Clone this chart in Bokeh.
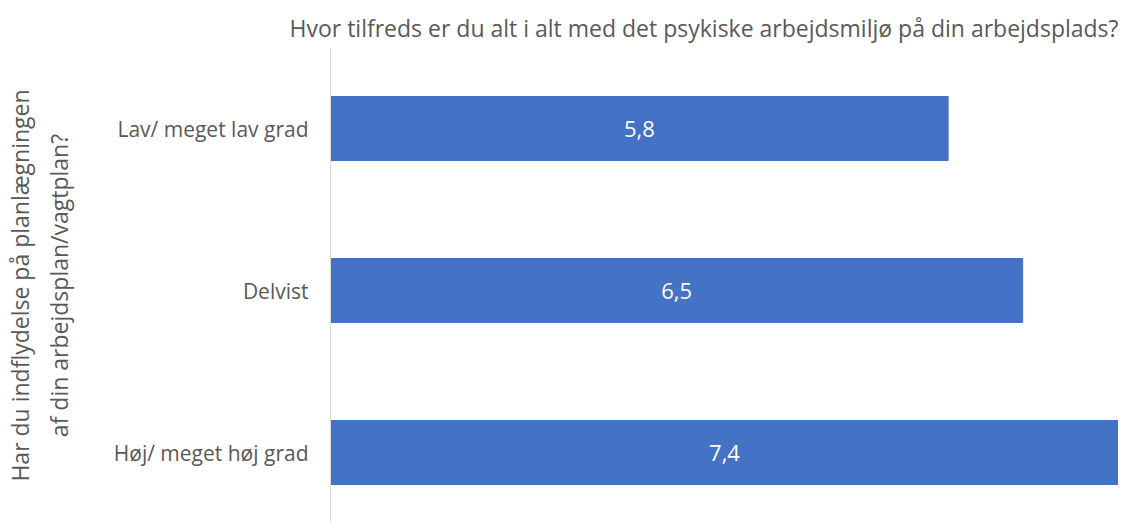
from bokeh.plotting import figure
from bokeh.models import ColumnDataSource, Range1d, FixedTicker
from bokeh.core.properties import value
from bokeh.embed import file_html
from bokeh.resources import INLINE

categories = ["Lav/ meget lav grad", "Delvist", "Høj/ meget høj grad"]
scores = [5.8, 6.5, 7.4]
title_text = "Hvor tilfreds er du alt i alt med det psykiske arbejdsmiljø på din arbejdsplads?"
y_label = "Har du indflydelse på planlægningen\naf din arbejdsplan/vagtplan?"

FONT = "Open Sans"
GRAY = "#595959"

pos = list(range(len(categories)))
labels = [f"{v:.1f}".replace(".", ",") for v in scores]
src = ColumnDataSource(dict(y=pos, right=scores, mid=[v / 2 for v in scores], lab=labels))

p = figure(width=1118, height=522, output_backend="svg", toolbar_location=None,
           x_range=Range1d(0, 7.4), y_range=Range1d(2.432, -0.494),
           min_border_left=330, min_border_right=0, min_border_top=48, min_border_bottom=0)
p.outline_line_color = None
p.background_fill_color = "white"
p.border_fill_color = "white"

p.hbar(y="y", left=0, right="right", height=0.395, source=src,
       fill_color="#4472C4", line_color="#4472C4")
p.text(x="mid", y="y", text="lab", source=src, text_color="white",
       text_align="center", text_baseline="middle",
       text_font=value(FONT), text_font_size="22px")

p.xaxis.visible = False
p.xgrid.visible = False
p.ygrid.visible = False

ya = p.yaxis[0]
ya.ticker = FixedTicker(ticks=pos)
ya.major_label_overrides = {i: c for i, c in zip(pos, categories)}
ya.major_tick_line_color = None
ya.minor_tick_line_color = None
ya.axis_line_color = "#d9d9d9"
ya.axis_line_width = 1
ya.major_label_text_color = GRAY
ya.major_label_text_font = FONT
ya.major_label_text_font_size = "21px"
ya.major_label_standoff = 16
ya.axis_label = y_label
ya.axis_label_text_color = GRAY
ya.axis_label_text_font = FONT
ya.axis_label_text_font_size = "23px"
ya.axis_label_text_font_style = "normal"
ya.axis_label_standoff = 36

p.title.text = title_text
p.title.align = "right"
p.title.text_color = GRAY
p.title.text_font = FONT
p.title.text_font_size = "23px"
p.title.text_font_style = "normal"

open("out.html", "w").write(file_html(p, INLINE))
